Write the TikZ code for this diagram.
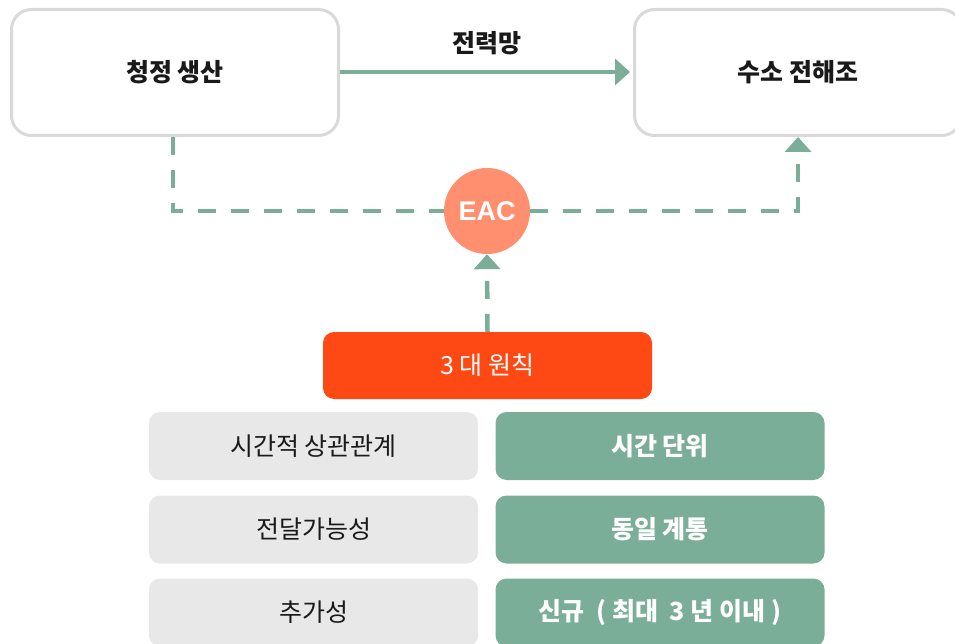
\documentclass[tikz,border=0pt]{standalone}
\usepackage{fontspec}
\setmainfont{Noto Sans CJK KR}
\newfontfamily\latinbold{Liberation Sans}[BoldFont={Liberation Sans Bold}]
\usetikzlibrary{arrows.meta}
\definecolor{gline}{HTML}{7BAE98}
\definecolor{boxgray}{HTML}{D9D9D9}
\definecolor{cellgray}{HTML}{E8E8E8}
\definecolor{salmon}{HTML}{FF8F6F}
\definecolor{redorange}{HTML}{FF4914}
\definecolor{txt}{HTML}{1A1A1A}
\begin{document}
\begin{tikzpicture}[x=1pt,y=-1pt,
  topbox/.style={draw=boxgray, line width=3pt, rounded corners=20pt, fill=white,
    minimum width=327pt, minimum height=126pt, inner sep=0pt,
    font=\fontsize{25}{29}\selectfont\bfseries, text=txt},
  cellbox/.style={rounded corners=11pt, minimum width=329pt, minimum height=68pt,
    inner sep=0pt, font=\fontsize{25}{29}\selectfont},
  graycell/.style={cellbox, fill=cellgray, text=txt},
  greencell/.style={cellbox, fill=gline, text=white, font=\fontsize{25}{29}\selectfont\bfseries},
  solidline/.style={draw=gline, line width=4pt},
  dashline/.style={draw=gline, line width=4.5pt, dash pattern=on 18pt off 15pt},
  tip/.style={-{Triangle[width=26pt,length=15pt]}}
]
\useasboundingbox (0,0) rectangle (955,644);

\node[topbox] (prod) at (175,72.5) {청정 생산};
\node[topbox] (elec) at (798,72.5) {수소 전해조};

\draw[solidline, tip, shorten >=3pt] (prod.east |- 0,72) -- (elec.west |- 0,72)
  node[midway, above=12pt, text=txt, font=\fontsize{25}{29}\selectfont\bfseries] (grid) {전력망};

\node[circle, fill=salmon, minimum size=86pt, inner sep=0pt, text=white,
  font=\latinbold\fontsize{27}{31}\selectfont\bfseries] (eac) at (487,211) {EAC};

\draw[dashline] ([xshift=-2pt]prod.south) -- ([xshift=-2pt]prod.south |- eac) -- (eac.west);
\draw[dashline, tip] (eac.east) -- (eac -| elec.south) -- (elec.south);

\node[cellbox, fill=redorange, text=white, minimum height=67pt] (prin) at (487.5,365.5) {3 대 원칙};
\draw[dashline, tip] (prin.north) -- (eac.south);

\node[graycell] (g1) at (313.5,446) {시간적 상관관계};
\node[graycell] (g2) at (313.5,529.5) {전달가능성};
\node[graycell] (g3) at (313.5,612.5) {추가성};
\node[greencell] (r1) at (660,446) {시간 단위};
\node[greencell] (r2) at (660,529.5) {동일 계통};
\node[greencell] (r3) at (660,612.5) {신규 \ ( 최대 \ 3 년 이내 )};
\end{tikzpicture}
\end{document}
